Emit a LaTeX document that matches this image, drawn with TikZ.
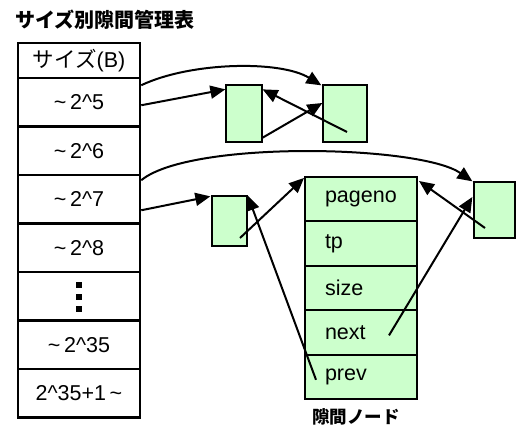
\documentclass[tikz,border=0pt]{standalone}
\usepackage{fontspec}
\setmainfont{Liberation Sans}
\newfontfamily\jp{Noto Sans CJK JP}
\usetikzlibrary{arrows.meta,calc}
\definecolor{lg}{HTML}{CCFFCC}
\begin{document}
\begin{tikzpicture}[x=1pt,y=-1pt,
  cell/.style={draw, line width=2.5pt, minimum width=122pt, inner sep=0pt, font=\fontsize{21.5}{25}\selectfont},
  field/.style={draw, fill=lg, line width=2pt, text width=72pt, inner xsep=20pt, inner ysep=0pt, minimum height=44.4pt, align=left, font=\fontsize{21.5}{25}\selectfont},
  sbox/.style={draw, fill=lg, line width=1.3pt, inner sep=0pt},
  arr/.style={-{Triangle[length=15pt,width=13pt]}, line width=2pt},
  ttl/.style={font=\jp\bfseries\fontsize{20}{24}\selectfont},
  lbl/.style={font=\jp\bfseries\fontsize{17.5}{20}\selectfont}
]
\useasboundingbox (0,0) rectangle (519,427);

\node[ttl] (title) at (105,20) {サイズ別隙間管理表};

% table
\node[cell, minimum height=35pt] (hd) at (79,60.5) {{\jp サイズ}(B)};
\node[cell, minimum height=48.5pt] (r5) at (79,102.25) {\textasciitilde\,2\textasciicircum5};
\node[cell, minimum height=48.5pt] (r6) at (79,150.75) {\textasciitilde\,2\textasciicircum6};
\node[cell, minimum height=48.5pt] (r7) at (79,199.25) {\textasciitilde\,2\textasciicircum7};
\node[cell, minimum height=48.5pt] (r8) at (79,247.75) {\textasciitilde\,2\textasciicircum8};
\node[cell, minimum height=48.5pt] (rd) at (79,296.25) {};
\node[cell, minimum height=48.5pt] (r35) at (79,344.75) {\textasciitilde\,2\textasciicircum35};
\node[cell, minimum height=48.5pt] (rl) at (79,393.25) {2\textasciicircum35+1\,\textasciitilde};
\foreach \dy in {-11,1,13}
  \fill ($(rd.center)+(-3,\dy-3)$) rectangle ++(6,6);

% small boxes
\node[sbox, minimum width=36pt, minimum height=57pt] (A) at (244,113.5) {};
\node[sbox, minimum width=44pt, minimum height=57pt] (B) at (345,113.5) {};
\node[sbox, minimum width=35pt, minimum height=50pt] (C) at (229.5,221) {};
\node[sbox, minimum width=41pt, minimum height=56pt] (D) at (494.5,210) {};

% big node
\node[field] (f1) at (361,199.2) {pageno};
\node[field] (f2) at (361,243.6) {tp};
\node[field] (f3) at (361,288) {size};
\node[field] (f4) at (361,332.4) {next};
\node[field] (f5) at (361,376.8) {prev};
\node[lbl] (lab) at (356,416.5) {隙間ノード};

% arrows, row 2^5
\draw[arr] ($(r5.east)+(0,-17)$) .. controls (190,62) and (280,60) .. ($(B.north west)+(-1,1)$);
\draw[arr] ($(r5.east)+(0,3)$) -- ($(A.north west)+(0,5)$);
\draw[arr] ($(A.south east)+(0,-5)$) -- ($(B.west)+(0,-10.5)$);
\draw[arr] ($(B.center)+(2,18.5)$) -- ($(A.north east)+(0,5)$);

% arrows, row 2^7
\draw[arr] ($(r7.east)+(0,-19)$) .. controls (190,140) and (420,145) .. ($(D.north west)+(-1,0)$);
\draw[arr] ($(r7.east)+(0,11)$) -- ($(C.north west)+(-1,1)$);
\draw[arr] ($(C.center)+(10.5,17)$) -- ($(f1.north west)+(0,2)$);
\draw[arr] ($(f5.west)+(12,3)$) -- (C.north east);
\draw[arr] ($(f4.west)+(85,3)$) -- ($(D.west)+(-1,-13)$);
\draw[arr] ($(D.center)+(-9.5,18)$) -- ($(f1.north east)+(1,5)$);
\end{tikzpicture}
\end{document}
